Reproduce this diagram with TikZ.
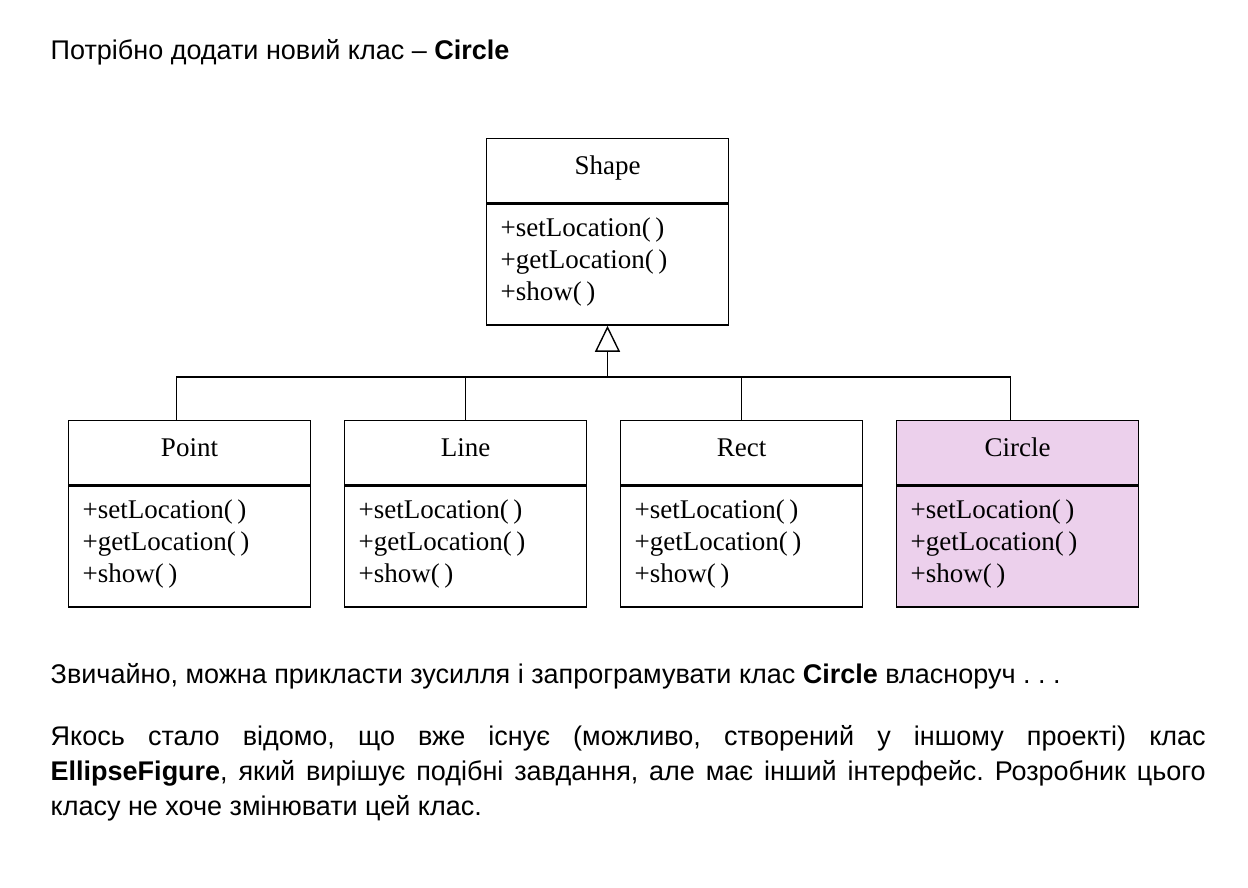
\documentclass[tikz,border=0pt]{standalone}
\usepackage{fontspec}
\setmainfont{Liberation Serif}
\newfontfamily\bodyfont{Liberation Sans}
\usetikzlibrary{arrows.meta,positioning}
\definecolor{circlefill}{RGB}{236,208,236}

\tikzset{
  classname/.style={draw,minimum width=120.8pt,minimum height=32pt,inner sep=0pt,text height=9pt,text depth=5pt,font=\fontsize{13.5}{16}\selectfont},
  classops/.style={draw,text width=106.8pt,inner xsep=7pt,inner ysep=0pt,minimum height=60.5pt,align=left,font=\fontsize{13.5}{16}\selectfont,execute at end node=\vspace{3pt}},
  bodytext/.style={font=\bodyfont\fontsize{13.5}{17.5}\selectfont\frenchspacing,inner sep=0pt},
  inherit/.style={-{Triangle[open,length=13pt,width=12.5pt]}},
}

\begin{document}
\begin{tikzpicture}[x=0.5pt,y=-0.5pt,line width=0.7pt]
  \useasboundingbox (0,0) rectangle (1248,888);

  \node[bodytext,anchor=base west] (title) at (50,60) {Потрібно додати новий клас – \textbf{Circle}};

  % base class
  \node[classname,anchor=north west] (shp) at (486,138) {Shape};
  \node[classops,below=0pt of shp] (shpm) {+setLocation(\,)\\+getLocation(\,)\\+show(\,)};

  % derived classes
  \node[classname,anchor=north west] (pnt) at (68,420) {Point};
  \node[classops,below=0pt of pnt] (pntm) {+setLocation(\,)\\+getLocation(\,)\\+show(\,)};
  \node[classname,right=16.5pt of pnt] (lin) {Line};
  \node[classops,below=0pt of lin] (linm) {+setLocation(\,)\\+getLocation(\,)\\+show(\,)};
  \node[classname,right=16.5pt of lin] (rct) {Rect};
  \node[classops,below=0pt of rct] (rctm) {+setLocation(\,)\\+getLocation(\,)\\+show(\,)};
  \node[classname,right=16.5pt of rct,fill=circlefill] (crc) {Circle};
  \node[classops,below=0pt of crc,fill=circlefill] (crcm) {+setLocation(\,)\\+getLocation(\,)\\+show(\,)};

  % generalization
  \coordinate (bus) at ([yshift=-25.5pt]shpm.south);
  \draw[inherit] (bus) -- (shpm.south);
  \draw ([xshift=-6.5pt]pnt.north) |- (bus) -| ([xshift=-3.5pt]crc.north);
  \draw (lin.north) -- (lin.north |- bus);
  \draw (rct.north) -- (rct.north |- bus);

  \node[bodytext,anchor=base west] (para1) at (50,683) {Звичайно, можна прикласти зусилля і запрограмувати клас \textbf{Circle} власноруч . . .};
  \node[bodytext,text width=577.5pt,align=justify,anchor=north west] (para2) at (50,725)
    {\hyphenpenalty=10000 Якось стало відомо, що вже існує (можливо, створений у іншому проекті) клас\linebreak
     \textbf{EllipseFigure}, який вирішує подібні завдання, але має інший інтерфейс. Розробник цього\linebreak
     класу не хоче змінювати цей клас.};
\end{tikzpicture}
\end{document}
